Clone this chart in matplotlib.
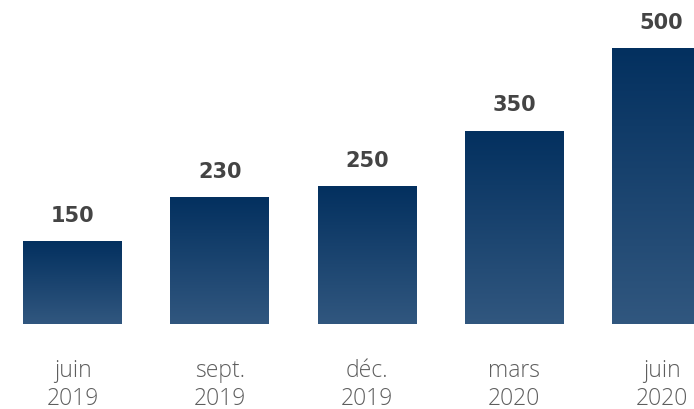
import numpy as np
import matplotlib
matplotlib.use('Agg')
import matplotlib.pyplot as plt
from matplotlib.colors import LinearSegmentedColormap

# ---------------------------------------------------------------------------
categories = ['juin\n2019', 'sept.\n2019', 'déc.\n2019', 'mars\n2020', 'juin\n2020']
values     = [150, 230, 250, 350, 500]

TOP_COLOR    = '#03305f'
BOTTOM_COLOR = '#31577f'
BAR_WIDTH    = 0.672
# ---------------------------------------------------------------------------

cmap = LinearSegmentedColormap.from_list('bar_grad', [BOTTOM_COLOR, TOP_COLOR])
grad = np.linspace(0, 1, 256).reshape(-1, 1)

fig = plt.figure(figsize=(6.94, 4.09), dpi=100)
ax = fig.add_axes([0, 0, 1, 1])
ax.axis('off')

x = np.arange(len(values))
bars = ax.bar(x, values, width=BAR_WIDTH, color='none', edgecolor='none')

for xi, v, bar in zip(x, values, bars):
    x0 = xi - BAR_WIDTH / 2
    im = ax.imshow(grad, cmap=cmap, aspect='auto', origin='lower',
                   extent=[x0, x0 + BAR_WIDTH, 0, v], zorder=2)
    im.set_clip_path(bar)
    ax.text(xi, v + 46, f'{v}', ha='center', va='center',
            fontsize=15, fontweight='bold', color='#444444',
            family='DejaVu Sans')
    ax.text(xi, -110, categories[xi], ha='center', va='center',
            fontsize=16.5, fontweight='light', color='#5e5e5e',
            family='Open Sans', linespacing=1.2)

ax.set_xlim(-0.4924, 4.2207)
ax.set_ylim(-154, 587)

fig.savefig('out.png', dpi=100)
